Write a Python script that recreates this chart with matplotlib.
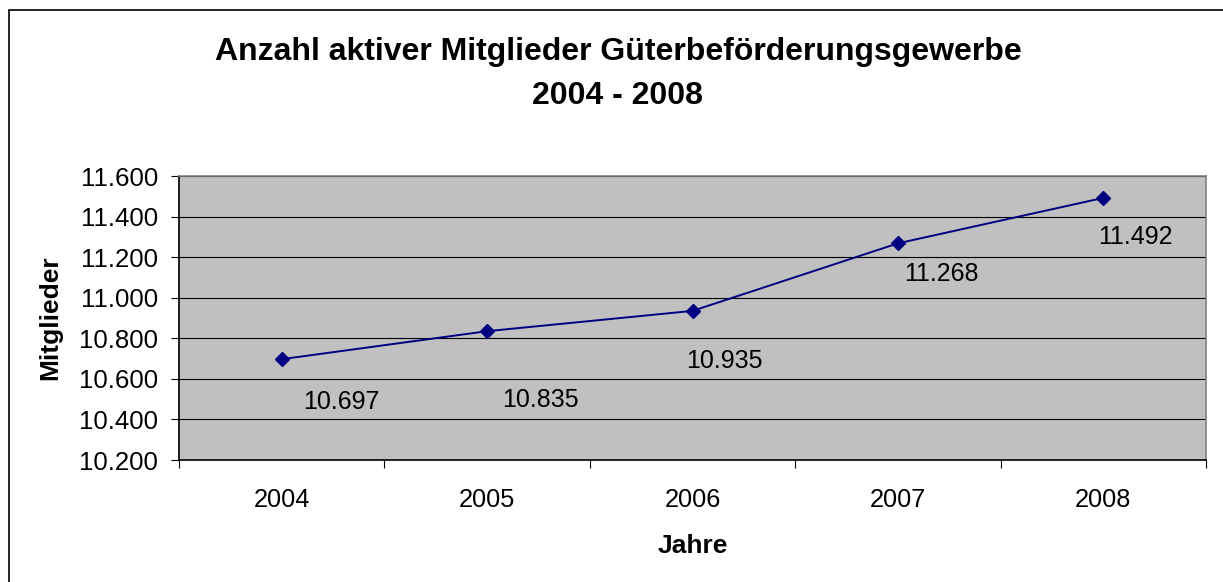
import matplotlib
matplotlib.use('Agg')
import matplotlib.pyplot as plt
from matplotlib.patches import Rectangle
from matplotlib.ticker import FixedLocator, FuncFormatter

plt.rcParams['font.family'] = ['Liberation Sans', 'DejaVu Sans']

# data
jahre = ['2004', '2005', '2006', '2007', '2008']
mitglieder = [10697, 10835, 10935, 11268, 11492]
y_ticks = [10200, 10400, 10600, 10800, 11000, 11200, 11400, 11600]

# label offsets (pixels) as placed in the original chart
label_offsets = [(60, -43), (53, -69), (32, -50), (43, -31), (32, -39)]


def de_fmt(v, pos=None):
    return f'{v:,.0f}'.replace(',', '.')


W, H = 1223, 582
fig = plt.figure(figsize=(W / 100, H / 100), dpi=100)

# outer chart frame (runs off the right/bottom edge like the original)
fig.patches.append(Rectangle((9 / W, -0.05), 1.1, 1 - 10 / H + 0.05,
                             transform=fig.transFigure, fill=False,
                             edgecolor='black', linewidth=1.2))

ax = fig.add_axes([179 / W, 1 - 460 / H, (1206 - 179) / W, (460 - 176) / H])
ax.set_facecolor('#c0c0c0')

x = list(range(len(jahre)))
ax.plot(x, mitglieder, color='#000080', linewidth=1.4,
        marker='D', markersize=7.5, markerfacecolor='#000080',
        markeredgecolor='#000080', zorder=3)

for xi, v, (dx, dy) in zip(x, mitglieder, label_offsets):
    ax.annotate(de_fmt(v), (xi, v), xytext=(dx, dy), textcoords='offset pixels',
                ha='center', va='center', fontsize=18, color='black')

ax.set_xlim(-0.5, len(jahre) - 0.5)
ax.set_ylim(y_ticks[0], y_ticks[-1])
ax.yaxis.set_major_locator(FixedLocator(y_ticks))
ax.yaxis.set_major_formatter(FuncFormatter(de_fmt))
ax.grid(axis='y', color='black', linewidth=0.8)
ax.set_axisbelow(True)

# category boundaries get the tick marks, names sit in between
ax.set_xticks([i - 0.5 for i in range(len(jahre) + 1)])
ax.set_xticklabels([])
ax.set_xticks(x, minor=True)
ax.set_xticklabels(jahre, minor=True)
ax.tick_params(axis='x', which='major', length=6, width=0.8, direction='out')
ax.tick_params(axis='x', which='minor', length=0, pad=20, labelsize=18.3)
ax.tick_params(axis='y', length=6, width=0.8, direction='out', pad=9, labelsize=18.6)

for side in ['left', 'bottom']:
    ax.spines[side].set_color('black')
    ax.spines[side].set_linewidth(1.2)
for side in ['top', 'right']:
    ax.spines[side].set_color('#808080')
    ax.spines[side].set_linewidth(1.2)

ax.set_xlabel('Jahre', fontsize=19, fontweight='bold', labelpad=16)
ax.set_ylabel('Mitglieder', fontsize=19, fontweight='bold', labelpad=12)

fig.text(618 / W, 1 - 52 / H, 'Anzahl aktiver Mitglieder Güterbeförderungsgewerbe',
         ha='center', va='center', fontsize=23, fontweight='bold')
fig.text(618 / W, 1 - 96 / H, '2004 - 2008',
         ha='center', va='center', fontsize=23, fontweight='bold')

fig.savefig('out.png', dpi=100)
